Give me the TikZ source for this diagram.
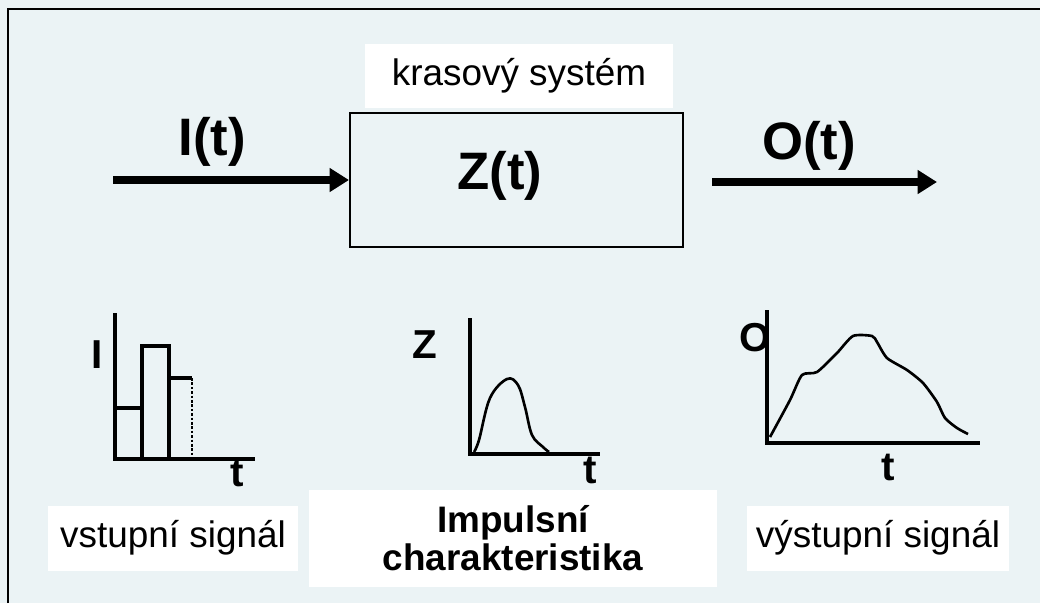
\documentclass[tikz,border=0pt]{standalone}
\usepackage{fontspec}
\setmainfont{Liberation Sans}
\usetikzlibrary{arrows.meta, positioning}
\usepackage{xcolor}
\definecolor{scanbg}{RGB}{235, 243, 245}

\begin{document}
\begin{tikzpicture}[
  x=0.02cm, y=-0.02cm,
  tag/.style={fill=white, inner sep=0pt, align=center, font=\fontsize{21}{22}\selectfont},
  sig/.style={font=\fontsize{30}{32}\selectfont\bfseries},
  axlbl/.style={font=\fontsize{23}{24}\selectfont\bfseries},
  sysbox/.style={draw, line width=1.2pt, minimum width=6.66cm, minimum height=2.68cm, inner sep=0pt},
  arr/.style={-{Triangle[length=11pt,width=13pt]}, line width=4pt},
  axis/.style={line width=1.8pt},
  curve/.style={line width=1.5pt, line join=round}
]
% background and frame
\fill[scanbg] (0,0) rectangle (1040,603);
\useasboundingbox (0,0) rectangle (1040,603);
\draw[line width=1.5pt] (8,603) -- (8,9) -- (1040,9);

% block with input / output
\node[tag, minimum width=6.16cm, minimum height=1.28cm] (title) at (519,76) {krasový systém};
\node[sysbox] (sys) at (516.5,180) {};
\node[sig] (zt) at (500,176) {Z(t)};
\coordinate (in) at (113,180);
\coordinate (out) at (937,182);
\node[sig] (it) at (212,142) {I(t)};
\node[sig] (ot) at (809,146) {O(t)};
\draw[arr] (in) -- (sys.west);
\draw[arr, shorten <=16pt] (sys.east |- out) -- (out);

% input signal
\draw[axis] (115,313) -- (115,459) -- (255,459);
\draw[axis] (115,408) -- (142,408) -- (142,459);
\draw[axis] (142,408) -- (142,346) -- (169,346) -- (169,459);
\draw[axis] (169,378) -- (192,378);
\draw[line width=1.5pt, densely dotted] (192,378) -- (192,459);
\node[axlbl] (il) at (97,355) {I};
\node[axlbl] (it1) at (237,473) {t};

% impulse response
\draw[axis] (470,318) -- (470,454) -- (600,454);
\draw[curve] plot[smooth, tension=0.6] coordinates {(474,452) (479,440) (490,398) (507,379) (518,385) (525,407) (532,435) (543,447) (549,452)};
\node[axlbl] (zl) at (425,345) {Z};
\node[axlbl] (it2) at (590,470) {t};

% output signal
\draw[axis] (767,310) -- (767,443) -- (980,443);
\draw[curve] plot[smooth, tension=0.4] coordinates {(770,437) (790,400) (802,375) (817,372) (837,353) (853,336) (872,336) (877,342) (887,358) (907,370) (923,383) (937,402) (945,418) (957,428) (968,434)};
\node[axlbl] (ol) at (755,338) {O};
\node[axlbl] (it3) at (888,467) {t};

% captions
\node[tag, minimum width=5.0cm, minimum height=1.3cm] (vin) at (173,538) {vstupní signál};
\node[tag, minimum width=8.16cm, minimum height=1.94cm, font=\fontsize{21}{22}\selectfont\bfseries] (imp) at (513,538) {Impulsní\\charakteristika};
\node[tag, minimum width=5.24cm, minimum height=1.3cm] (vout) at (878,538) {výstupní signál};
\end{tikzpicture}
\end{document}
